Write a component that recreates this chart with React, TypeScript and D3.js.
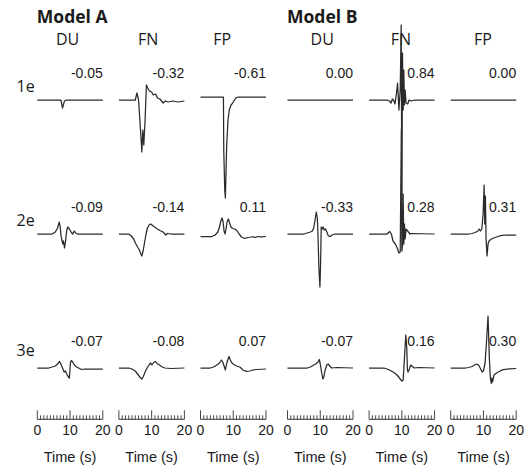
import React from "react";
import * as d3 from "d3";

type Pt = [number, number];

// ---------- DATA (time s, amplitude) ----------
const modelNames = ["Model A", "Model B"];
const metrics = ["DU", "FN", "FP"];
const rowLabels = ["1e", "2e", "3e"];
const timeTicks = [0, 10, 20];

// correlation labels [row][col] for cols A-DU, A-FN, A-FP, B-DU, B-FN, B-FP
const corr1e = [-0.05, -0.32, -0.61, 0.0, 0.84, 0.0];
const corr2e = [-0.09, -0.14, 0.11, -0.33, 0.28, 0.31];
const corr3e = [-0.07, -0.08, 0.07, -0.07, 0.16, 0.3];

// Model A, 1e
const aDU1: Pt[] = [[0,0],[7.2,0],[7.7,-0.08],[8.3,-0.01],[8.8,0],[20,0]];
const aFN1: Pt[] = [[0,0],[5.0,0],[5.5,0.07],[6.0,0],[6.6,-0.3],[7.0,-0.52],[7.3,-0.3],[7.6,-0.45],[8.0,-0.2],[8.4,0.15],[8.8,0.12],[9.3,0.09],[10.0,0.08],[10.5,0.05],[11.2,0.06],[11.8,0.02],[12.5,0.01],[13.5,-0.03],[14.2,-0.01],[15,-0.02],[16.5,-0.01],[18,-0.02],[20,-0.01]];
const aFP1: Pt[] = [[0,0.03],[7.0,0.03],[7.1,-0.5],[7.4,-0.9],[7.6,-0.98],[7.8,-0.7],[8.0,-0.45],[8.4,-0.2],[8.8,-0.1],[9.3,-0.05],[9.6,-0.04],[10.2,-0.01],[10.8,0.02],[11.5,0.03],[20,0.03]];
// Model B, 1e
const bDU1: Pt[] = [[0,0],[20,0]];
const bFN1: Pt[] = [[0,0],[5.5,0],[6.2,-0.01],[6.7,-0.03],[7.1,0.01],[7.6,-0.01],[7.9,-0.04],[8.3,0.05],[8.7,0.17],[9.1,-0.1],[9.5,0.1],[9.8,0.75],[10.0,-1.0],[10.2,0.47],[10.4,-0.1],[10.6,0.3],[10.8,-0.05],[11.0,0.1],[11.3,-0.03],[11.8,-0.04],[12.2,0],[12.9,-0.01],[14,0],[20,0]];
const bFP1: Pt[] = [[0,0],[20,0]];

// Model A, 2e
const aDU2: Pt[] = [[0,0],[4.5,0],[5.5,0.02],[6.2,0.06],[6.7,0.12],[7.0,0.07],[7.2,-0.01],[7.5,-0.06],[7.8,-0.1],[8.0,-0.07],[8.3,-0.14],[8.6,-0.08],[9.0,0.04],[9.3,0.07],[9.8,0.05],[10.3,0.02],[10.8,0],[11.3,0.03],[11.7,0.01],[12.3,0],[20,0]];
const aFN2: Pt[] = [[0,0],[3.0,0],[3.8,-0.02],[4.5,-0.05],[5.2,-0.1],[5.7,-0.13],[6.1,-0.15],[6.6,-0.19],[7.0,-0.22],[7.4,-0.17],[7.8,-0.09],[8.3,0],[8.7,0.06],[9.2,0.09],[9.7,0.1],[10.5,0.08],[11.5,0.055],[12.5,0.035],[13.5,0.02],[14.3,-0.01],[14.8,0.005],[16,0],[20,0]];
const aFP2: Pt[] = [[0,-0.025],[3.5,-0.025],[4.5,-0.01],[5.3,0.02],[5.8,0.07],[6.2,0.13],[6.6,0.16],[6.9,0.12],[7.2,0.03],[7.5,0],[7.8,0.05],[8.1,0.12],[8.5,0.15],[8.9,0.11],[9.3,0.07],[9.8,0.055],[10.5,0.05],[11.1,0.035],[11.8,0],[12.5,-0.03],[13.5,-0.045],[14.5,-0.035],[15.5,-0.03],[16.2,-0.028],[16.8,-0.035],[17.5,-0.025],[18.5,-0.028],[20,-0.025]];
// Model B, 2e
const bDU2: Pt[] = [[0,0],[5.0,0],[6.0,0.01],[7.0,0.02],[7.6,0.03],[8.0,0.06],[8.4,0.14],[8.8,0.22],[9.1,0.16],[9.3,0],[9.6,-0.35],[9.9,-0.53],[10.1,-0.3],[10.3,0.07],[10.6,0.05],[10.9,0.07],[11.2,0.04],[11.6,0.05],[12.0,0.02],[12.5,-0.02],[13.0,-0.025],[13.6,-0.01],[14.5,0],[20,0]];
const bFN2: Pt[] = [[0,0],[5.5,0],[6.3,0.025],[6.8,0],[7.3,-0.07],[8.0,-0.1],[8.6,-0.14],[9.1,-0.19],[9.5,-0.18],[9.85,1.05],[10.0,-0.17],[10.2,-0.12],[10.4,0.4],[10.6,-0.1],[10.8,0.1],[11.0,-0.05],[11.3,0.05],[11.9,0.025],[12.5,0],[13,0.005],[20,0]];
const bFP2: Pt[] = [[0,0],[5.5,0],[6.5,0.005],[7.5,0.015],[8.3,0.03],[8.7,0.05],[9.1,0.03],[9.5,0.05],[9.9,0.2],[10.2,0.49],[10.4,0.1],[10.6,0.38],[10.8,-0.05],[11.1,-0.22],[11.4,-0.1],[11.7,-0.07],[12.2,-0.055],[13.1,-0.04],[14,-0.03],[15.2,-0.017],[17,-0.01],[20,-0.01]];

// Model A, 3e
const aDU3: Pt[] = [[0,0],[3.5,0],[4.5,0.01],[5.5,0.02],[6.2,0.04],[6.8,0.065],[7.2,0.04],[7.7,0],[8.2,-0.04],[8.6,-0.03],[9.0,-0.06],[9.5,-0.09],[9.8,-0.1],[10.1,0.05],[10.4,0.075],[10.8,0.06],[11.3,0.03],[12.0,0.01],[12.6,0],[13.5,-0.015],[14.5,-0.01],[16,-0.01],[20,-0.01]];
const aFN3: Pt[] = [[0,0],[3.0,0],[4.0,-0.01],[5.0,-0.03],[5.7,-0.06],[6.4,-0.09],[7.0,-0.11],[7.4,-0.09],[8.0,-0.04],[8.6,0],[9.2,0.03],[9.7,0.05],[10.1,0.03],[10.6,0.055],[11.2,0.065],[11.6,0.045],[12.2,0.035],[13.0,0.015],[14,0],[16,-0.005],[20,0]];
const aFP3: Pt[] = [[0,0],[3.0,0],[4.0,0.01],[5.0,0.03],[5.8,0.05],[6.4,0.08],[6.8,0.06],[7.3,0.01],[7.6,-0.02],[7.9,0.03],[8.3,0.08],[8.7,0.115],[9.1,0.08],[9.6,0.05],[10.2,0.035],[11.0,0.02],[12.0,0.01],[13.0,-0.02],[14.0,-0.033],[15,-0.03],[16,-0.02],[17,-0.015],[20,-0.01]];
// Model B, 3e
const bDU3: Pt[] = [[0,0],[6.0,0],[7.0,0.01],[8.0,0.03],[8.6,0.04],[9.3,0.06],[9.7,0.085],[10.0,0.04],[10.4,-0.04],[10.8,-0.11],[11.1,-0.09],[11.5,-0.02],[12.0,0.03],[12.4,0.04],[12.9,0.02],[13.5,0],[15,0.005],[20,0]];
const bFN3: Pt[] = [[0,0],[4.5,0],[5.5,-0.01],[6.5,-0.025],[7.3,-0.04],[8.0,-0.055],[8.8,-0.08],[9.5,-0.11],[10.0,-0.13],[10.4,-0.12],[10.8,0.1],[11.2,0.33],[11.5,0.2],[11.7,-0.02],[11.9,-0.04],[12.3,-0.01],[12.7,0.03],[13.1,0.02],[13.8,0],[15,0.005],[20,0]];
const bFP3: Pt[] = [[0,0],[4.5,0],[5.5,0.005],[6.5,0.015],[7.3,0.03],[7.9,0.04],[8.5,0.03],[9.0,0],[9.6,-0.04],[10.0,-0.03],[10.5,0.05],[11.0,0.3],[11.4,0.52],[11.8,0.1],[12.1,-0.1],[12.4,-0.155],[12.6,-0.1],[12.8,-0.14],[13.2,-0.07],[13.8,-0.055],[14.5,-0.04],[16,-0.016],[18,-0.008],[20,-0.005]];

const traces: Pt[][][] = [
  [aDU1, aFN1, aFP1, bDU1, bFN1, bFP1],
  [aDU2, aFN2, aFP2, bDU2, bFN2, bFP2],
  [aDU3, aFN3, aFP3, bDU3, bFN3, bFP3],
];
const corrs = [corr1e, corr2e, corr3e];

// ---------- LAYOUT ----------
const W = 530, H = 469;
const groupStart = [37.3, 287.5];
const colStep = 81.6;
const colW = 65.5;
const rowBase = [100, 234, 368];
const ampPx = 100; // px per unit amplitude
const headerDx = [-2.5, -3.5, -11, 2, -1, -0.5];
const axisY = 419.3;

const sans = "'Open Sans', 'Noto Sans', sans-serif";
const arial = "'Liberation Sans', Arial, sans-serif";
const ink = "#1a1a1a";

export default function App() {
  const cols = d3.range(6).map((c) => {
    const g = Math.floor(c / 3);
    const i = c % 3;
    const x0 = groupStart[g] + i * colStep;
    return d3.scaleLinear().domain([0, 20]).range([x0, x0 + colW]);
  });

  return (
    <svg width={W} height={H} style={{ position: "absolute", left: 0, top: 0, background: "#fff" }}>
      {modelNames.map((m, g) => (
        <text key={m} x={groupStart[g] - 0.5} y={22.5} fontFamily={sans} fontWeight={700} fontSize={17.5} fill={ink}>
          {m}
        </text>
      ))}
      {cols.map((x, c) => (
        <text key={"h" + c} x={(x(0) + x(20)) / 2 + headerDx[c]} y={45} textAnchor="middle" fontFamily={sans} fontSize={16} fill={ink}>
          {metrics[c % 3]}
        </text>
      ))}
      {rowLabels.map((r, ri) => (
        <text key={r} x={16.5} y={rowBase[ri] - (ri === 2 ? 12 : 8.5)} fontFamily={sans} fontSize={16} fill={ink}>
          {r}
        </text>
      ))}
      {traces.map((row, ri) => {
        const y = d3.scaleLinear().domain([-1, 1]).range([rowBase[ri] + ampPx, rowBase[ri] - ampPx]);
        return row.map((pts, c) => {
          const x = cols[c];
          const line = d3.line<Pt>().x((d) => x(d[0])).y((d) => y(d[1]));
          return (
            <g key={`t${ri}-${c}`}>
              <path d={line(pts) || ""} fill="none" stroke="#2a2a2a" strokeWidth={1.25} strokeLinejoin="round" />
              <text x={x(20)} y={rowBase[ri] - 22} textAnchor="end" fontFamily={arial} fontSize={14} fill={ink}>
                {corrs[ri][c].toFixed(2)}
              </text>
            </g>
          );
        });
      })}
      {cols.map((x, c) => (
        <g key={"ax" + c}>
          <line x1={x(0)} x2={x(20)} y1={axisY} y2={axisY} stroke="#333" strokeWidth={1} />
          {x.ticks(20).map((t) => (
            <line key={t} x1={x(t)} x2={x(t)} y1={axisY} y2={axisY - (t % 10 === 0 ? 9 : 4)} stroke="#333" strokeWidth={0.9} />
          ))}
          {timeTicks.map((t) => (
            <text key={"l" + t} x={x(t)} y={434.5} textAnchor="middle" fontFamily={arial} fontSize={14} fill={ink}>
              {t}
            </text>
          ))}
          <text x={(x(0) + x(20)) / 2} y={462} textAnchor="middle" fontFamily={arial} fontSize={14.5} fill={ink}>
            Time (s)
          </text>
        </g>
      ))}
    </svg>
  );
}
